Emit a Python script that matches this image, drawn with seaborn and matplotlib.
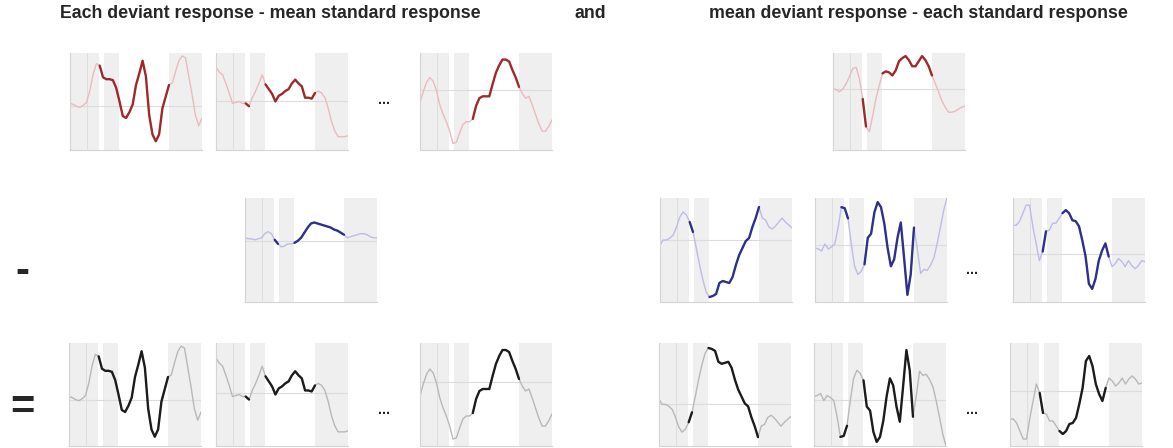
import matplotlib

matplotlib.use("Agg")
import matplotlib.pyplot as plt
import numpy as np
import pandas as pd
import seaborn as sns

# Normalised time axis shared by every trace (41 samples across the epoch).
TIME = np.linspace(0, 1, 41)

# Each deviant response (top row, left) and the mean deviant response (top row, right).
DEV_EACH_1 = [3, 2, 0, -1, 1, 4, 16, 33, 44, 42, 30, 28, 28, 27, 19, 5, -10, -12, -6, 2,
              22, 34, 47, 31, -9, -29, -36, -29, -2, 10, 22, 24, 36, 47, 52, 50, 31, 12, -9, -20, -12]
DEV_EACH_2 = [35, 30, 27, 18, 8, -3, -2, -1, -3, -3, -6, 3, 10, 18, 27, 17, 12, 7, -1, 5,
              7, 10, 12, 18, 22, 18, 15, 3, 3, 2, 8, 10, 8, 3, -8, -22, -32, -38, -38, -38, -37]
DEV_EACH_3 = [-14, -2, 8, 13, 9, -1, -16, -26, -34, -44, -57, -56, -46, -37, -34, -34, -31, -17, -9, -7,
              -7, -7, 6, 18, 26, 32, 32, 30, 21, 13, 3, -4, -9, -7, -16, -26, -36, -44, -44, -39, -32]
DEV_MEAN = [0, -1, -3, 0, 5, 12, 20, 21, 10, -10, -37, -42, -27, -10, 3, 15, 17, 16, 13, 18,
            27, 30, 32, 28, 22, 22, 27, 32, 28, 22, 13, 5, -3, -12, -18, -23, -23, -22, -20, -18, -17]

# Mean standard response (middle row, left) and each standard response (middle row, right).
STD_MEAN = [3, 2, 2, 1, 2, 3, 7, 9, 7, 1, -3, -6, -5, -3, -3, -2, 0, 3, 8, 13,
            17, 18, 17, 16, 15, 14, 13, 11, 10, 8, 6, 3, 4, 5, 6, 7, 7, 6, 4, 3, 3]
STD_EACH_1 = [-5, 0, 0, 2, 5, 13, 23, 28, 25, 18, 8, -8, -25, -40, -52, -57, -56, -54, -43, -41,
              -42, -43, -37, -25, -15, -8, -1, 2, 13, 22, 33, 22, 20, 13, 11, 14, 18, 22, 18, 15, 12]
STD_EACH_2 = [-3, -4, -6, 1, -4, -2, 1, 17, 37, 36, 26, 1, -21, -29, -26, -19, 7, 11, 32, 42,
              37, 21, -3, -21, -14, 7, 22, -13, -49, -29, 17, -4, -28, -24, -25, -20, -13, 1, 17, 34, 46]
STD_EACH_3 = [28, 28, 32, 40, 48, 48, 27, 10, -7, 2, 22, 23, 30, 30, 35, 40, 43, 40, 33, 32,
              27, 13, -3, -30, -35, -25, -7, 3, 10, -3, -13, -10, -5, -8, -13, -7, -12, -15, -12, -7, -8]

# Time windows where the trace is drawn dark (analysis window).
SEG_DEV_1 = [(0.22, 0.75)]
SEG_DEV_2 = [(0.22, 0.26), (0.36, 0.76)]
SEG_DEV_3 = [(0.23, 0.27), (0.38, 0.76)]
SEG_DEV_MEAN = [(0.22, 0.27), (0.37, 0.77)]
SEG_STD_MEAN = [(0.21, 0.27), (0.36, 0.75)]
SEG_STD_1 = [(0.22, 0.25), (0.37, 0.75)]
SEG_STD_2 = [(0.20, 0.26), (0.37, 0.76)]
SEG_STD_3 = [(0.215, 0.27), (0.37, 0.74)]

TITLE_LEFT = "Each deviant response - mean standard response"
TITLE_RIGHT = "mean deviant response - each standard response"

COLORS = {
    "red": ("#e9bcbc", "#9e2a2b"),
    "blue": ("#bcbce8", "#2f2f8e"),
    "black": ("#b8b8b8", "#1c1c1c"),
}
SHADE = "#efefef"
W, H = 1173, 448


def draw_trace(fig, rect, values, segments, ylim, color):
    left, top, width, height = rect
    ax = fig.add_axes([left / W, 1 - (top + height) / H, width / W, height / H])
    ax.set_facecolor("white")
    for a, b in [(0.0, 0.222), (0.255, 0.37), (0.75, 1.0)]:
        ax.axvspan(a, b, color=SHADE, lw=0, zorder=0)
    ax.axvline(0.13, color="#dedede", lw=0.7, zorder=0.5)
    ax.axhline(0, color="#dcdcdc", lw=0.8, zorder=0.5)

    light, dark = COLORS[color]
    df = pd.DataFrame({"t": TIME, "v": np.asarray(values, dtype=float)})
    sns.lineplot(data=df, x="t", y="v", ax=ax, color=light, lw=1.0, zorder=2)
    for a, b in segments:
        part = df[(df["t"] >= a - 1e-9) & (df["t"] <= b + 1e-9)]
        sns.lineplot(data=part, x="t", y="v", ax=ax, color=dark, lw=1.7, zorder=3)

    ax.set_xlim(0, 1)
    ax.set_ylim(*ylim)
    ax.set_xticks([])
    ax.set_yticks([])
    ax.set_xlabel("")
    ax.set_ylabel("")
    for side in ["top", "right"]:
        ax.spines[side].set_visible(False)
    for side in ["left", "bottom"]:
        ax.spines[side].set_color("#d4d4d4")
        ax.spines[side].set_linewidth(0.8)
    return ax


def main() -> None:
    sns.set_style("white")
    plt.rcParams["font.family"] = ["Liberation Sans", "DejaVu Sans"]

    fig = plt.figure(figsize=(W / 100, H / 100), dpi=100)

    neg = lambda vals: [-v for v in vals]
    panels = [
        # top row
        ((70, 53, 132, 97), DEV_EACH_1, SEG_DEV_1, (-45, 55), "red"),
        ((216, 53, 132, 97), DEV_EACH_2, SEG_DEV_2, (-52, 50), "red"),
        ((420, 53, 132, 97), DEV_EACH_3, SEG_DEV_3, (-64, 39), "red"),
        ((833, 53, 132, 97), DEV_MEAN, SEG_DEV_MEAN, (-60, 35), "red"),
        # middle row
        ((245, 198, 132, 104), STD_MEAN, SEG_STD_MEAN, (-60, 42), "blue"),
        ((660, 198, 132, 104), STD_EACH_1, SEG_STD_1, (-62, 42), "blue"),
        ((815, 198, 132, 104), STD_EACH_2, SEG_STD_2, (-56, 46), "blue"),
        ((1013, 198, 132, 104), STD_EACH_3, SEG_STD_3, (-48, 55), "blue"),
        # bottom row: differences
        ((69, 343, 132, 103), DEV_EACH_1, SEG_DEV_1, (-45, 55), "black"),
        ((216, 343, 132, 103), DEV_EACH_2, SEG_DEV_2, (-52, 50), "black"),
        ((420, 343, 132, 103), DEV_EACH_3, SEG_DEV_3, (-64, 39), "black"),
        ((659, 343, 132, 103), neg(STD_EACH_1), SEG_STD_1, (-42, 62), "black"),
        ((814, 343, 132, 103), neg(STD_EACH_2), SEG_STD_2, (-46, 56), "black"),
        ((1010, 343, 132, 103), neg(STD_EACH_3), SEG_STD_3, (-55, 48), "black"),
    ]
    for rect, values, segments, ylim, color in panels:
        draw_trace(fig, rect, values, segments, ylim, color)

    def px_text(x, y, s, **kw):
        fig.text(x / W, 1 - y / H, s, ha="center", va="center", fontweight="bold", **kw)

    px_text(270, 13, TITLE_LEFT, fontsize=12.8)
    px_text(590, 13, "and", fontsize=12.8)
    px_text(918, 13, TITLE_RIGHT, fontsize=12.8)
    px_text(22, 272, "-", fontsize=30)
    px_text(22, 408, "=", fontsize=30)
    for x, y in [(384, 100), (384, 410), (972, 270), (972, 410)]:
        px_text(x, y, "...", fontsize=10)

    fig.savefig("out.png", dpi=100, facecolor="white")
    plt.close(fig)


if __name__ == "__main__":
    main()
